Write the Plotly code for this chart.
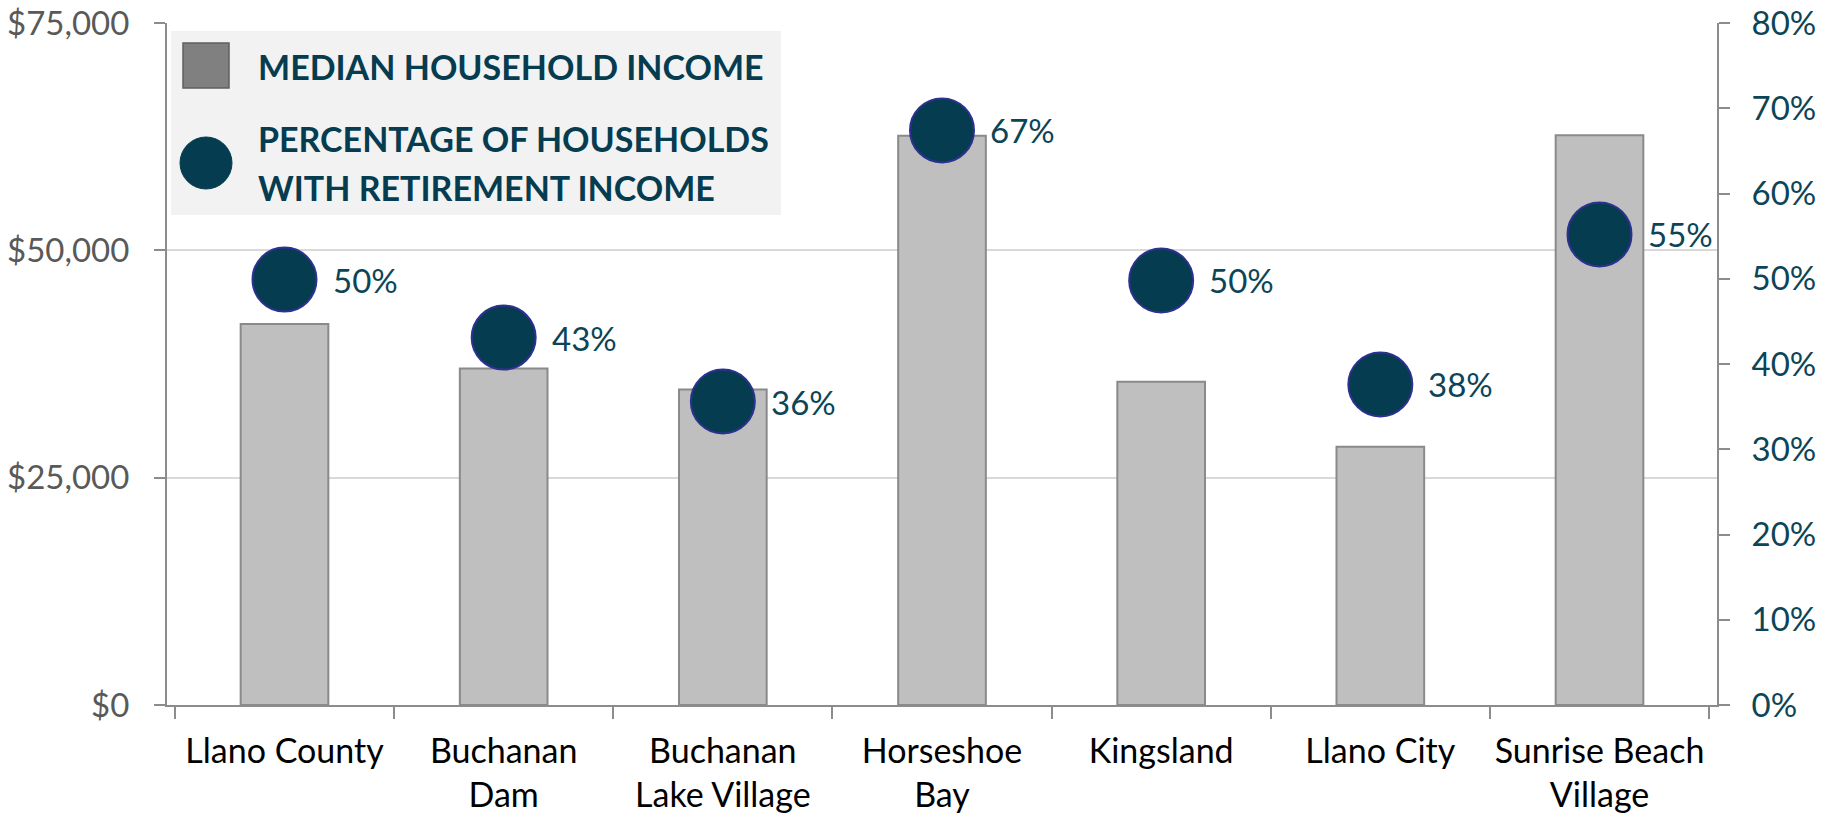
import plotly.graph_objects as go

categories = ["Llano County", "Buchanan Dam", "Buchanan Lake Village", "Horseshoe Bay",
              "Kingsland", "Llano City", "Sunrise Beach Village"]
tick_labels = ["Llano County", "Buchanan<br>Dam", "Buchanan<br>Lake Village", "Horseshoe<br>Bay",
               "Kingsland", "Llano City", "Sunrise Beach<br>Village"]
median_income = [41900, 37000, 34700, 62600, 35550, 28400, 62650]
pct_retirement = [0.499, 0.431, 0.356, 0.674, 0.498, 0.376, 0.552]

W, H = 1822, 816
L, R, T, B = 167, 1717, 23, 705
FONT = "Lato"
TEAL = "#063C50"
TEAL_TXT = "#0B4557"

def px(x):
    return (x - L) / (R - L)

def py(y):
    return (B - y) / (B - T)

fig = go.Figure()
fig.add_trace(go.Bar(
    x=categories, y=median_income, width=0.4,
    marker=dict(color="#BFBFBF", line=dict(color="#8A8A8A", width=2)),
    name="MEDIAN HOUSEHOLD INCOME", showlegend=False, hoverinfo="skip"))
fig.add_trace(go.Scatter(
    x=categories, y=pct_retirement, yaxis="y2", mode="markers",
    marker=dict(size=64, color=TEAL, line=dict(color="#2E3192", width=2)),
    name="PERCENTAGE OF HOUSEHOLDS WITH RETIREMENT INCOME", showlegend=False, hoverinfo="skip"))

annotations = []
for c, v in zip(categories, pct_retirement):
    annotations.append(dict(x=c, y=v, yref="y2", xref="x", text=f"{round(v*100)}%",
                            showarrow=False, xanchor="left", yanchor="middle", xshift=46,
                            font=dict(family=FONT, size=33, color=TEAL_TXT)))

# manual legend
shapes = [
    dict(type="rect", xref="paper", yref="paper", x0=px(171), x1=px(781), y0=py(215), y1=py(31),
         fillcolor="#F2F2F2", line=dict(width=0), layer="below"),
    dict(type="rect", xref="paper", yref="paper", x0=px(183), x1=px(229), y0=py(88), y1=py(43),
         fillcolor="#808080", line=dict(color="#5F5F5F", width=1.5)),
    dict(type="circle", xref="paper", yref="paper", x0=px(180), x1=px(232), y0=py(189), y1=py(137),
         fillcolor=TEAL, line=dict(color=TEAL, width=1)),
]
leg_font = dict(family=FONT, size=34, color=TEAL)
for txt, yc in [("<b>MEDIAN HOUSEHOLD INCOME</b>", 66),
                ("<b>PERCENTAGE OF HOUSEHOLDS</b>", 139),
                ("<b>WITH RETIREMENT INCOME</b>", 187)]:
    annotations.append(dict(x=px(256), y=py(yc), xref="paper", yref="paper", text=txt,
                            showarrow=False, xanchor="left", yanchor="middle", font=leg_font))

axis_col = "#8C8C8C"
fig.update_layout(
    width=W, height=H,
    margin=dict(l=L, r=W - R, t=T, b=H - B, pad=0),
    paper_bgcolor="white", plot_bgcolor="white",
    bargap=0.6,
    xaxis=dict(type="category", tickmode="array", tickvals=categories, ticktext=tick_labels,
               tickangle=0,
               showline=True, linecolor=axis_col, linewidth=2,
               ticks="outside", tickson="boundaries", ticklen=12, tickcolor=axis_col, tickwidth=2,
               tickfont=dict(family=FONT, size=34, color="#000000"), showgrid=False,
               ticklabelstandoff=15, automargin=False),
    yaxis=dict(range=[0, 75000], tickmode="linear", tick0=0, dtick=25000,
               tickprefix="$", tickformat=",", showline=True, linecolor=axis_col, linewidth=2,
               ticks="outside", ticklen=11, tickcolor=axis_col, tickwidth=2,
               gridcolor="#D9D9D9", gridwidth=2, zeroline=False, automargin=False,
               tickfont=dict(family=FONT, size=33, color="#595959"), ticklabelstandoff=18),
    yaxis2=dict(range=[0, 0.8], overlaying="y", side="right", tickmode="linear", tick0=0, dtick=0.1,
                tickformat=".0%", showline=True, linecolor=axis_col, linewidth=2,
                ticks="outside", ticklen=11, tickcolor=axis_col, tickwidth=2,
                showgrid=False, zeroline=False, automargin=False,
                tickfont=dict(family=FONT, size=33, color=TEAL_TXT), ticklabelstandoff=15),
    shapes=shapes, annotations=annotations,
)

fig.write_html("out.html", config={"displayModeBar": False},
               post_script="document.body.style.margin='0';")
